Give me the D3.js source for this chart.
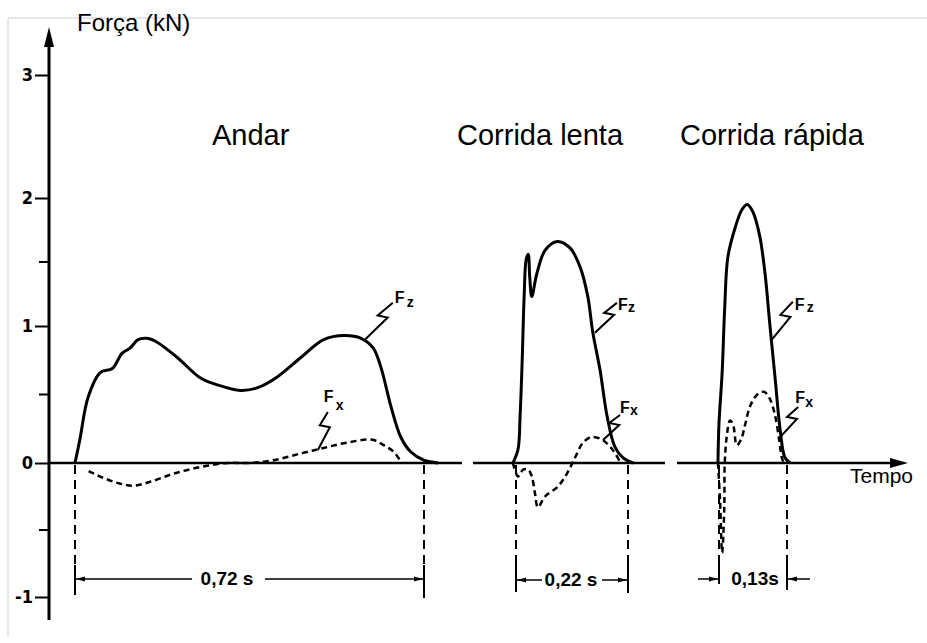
<!DOCTYPE html>
<html><head><meta charset="utf-8">
<script src="https://cdn.jsdelivr.net/npm/d3@7"></script>
<style>
html,body{margin:0;padding:0;background:#fff;}
svg{display:block;}
</style></head>
<body>
<svg id="chart" width="927" height="643"></svg>
<script>
// ---------- data ----------
const yTickValues = [-1, 0, 1, 2, 3];
const yTickLabels = ["-1", "0", "1", "2", "3"];
const yMinorTicks = [-0.5, 0.5, 1.5];
const panelTitles = ["Andar", "Corrida lenta", "Corrida rápida"];
const durations = [0.72, 0.22, 0.13];
const durationLabels = ["0,72 s", "0,22 s", "0,13s"];
const axisTitleY = "Força (kN)";
const axisTitleX = "Tempo";

// [time (s), force (kN)]
const walkFz = [[0,0],[0.010,0.17],[0.027,0.48],[0.052,0.66],[0.077,0.69],[0.097,0.80],[0.114,0.84],[0.130,0.90],[0.149,0.91],[0.170,0.88],[0.211,0.77],[0.259,0.62],[0.294,0.57],[0.341,0.53],[0.377,0.55],[0.418,0.63],[0.466,0.77],[0.513,0.90],[0.555,0.93],[0.590,0.91],[0.615,0.84],[0.631,0.70],[0.652,0.41],[0.672,0.19],[0.693,0.08],[0.72,0.02],[0.749,0]];
const walkFx = [[0.028,-0.06],[0.058,-0.11],[0.089,-0.15],[0.120,-0.17],[0.155,-0.14],[0.203,-0.08],[0.259,-0.03],[0.314,0],[0.356,0],[0.410,0.02],[0.466,0.07],[0.513,0.11],[0.563,0.15],[0.614,0.17],[0.637,0.13],[0.658,0.08],[0.672,0.01]];
const slowFz = [[-0.006,0],[0.004,0.10],[0.008,0.34],[0.012,0.73],[0.016,1.23],[0.020,1.52],[0.024,1.56],[0.027,1.38],[0.031,1.23],[0.041,1.41],[0.057,1.59],[0.081,1.66],[0.106,1.61],[0.126,1.46],[0.141,1.23],[0.151,0.95],[0.165,0.68],[0.179,0.34],[0.194,0.12],[0.210,0.04],[0.230,0]];
const slowFx = [[-0.006,0],[0.004,-0.10],[0.014,-0.05],[0.024,-0.05],[0.031,-0.10],[0.037,-0.22],[0.043,-0.33],[0.057,-0.25],[0.081,-0.18],[0.100,-0.08],[0.116,0.04],[0.132,0.15],[0.149,0.19],[0.169,0.17],[0.189,0.10],[0.204,0.01]];
const fastFz = [[-0.002,0],[0,0.29],[0.006,0.66],[0.011,1.15],[0.017,1.54],[0.031,1.77],[0.044,1.91],[0.054,1.95],[0.065,1.89],[0.078,1.70],[0.088,1.41],[0.097,1.02],[0.107,0.63],[0.117,0.24],[0.126,0.04],[0.136,0]];
const fastFx = [[-0.002,0],[0.002,-0.28],[0.006,-0.67],[0.010,-0.35],[0.011,0],[0.015,0.20],[0.021,0.31],[0.027,0.28],[0.034,0.13],[0.042,0.17],[0.050,0.28],[0.059,0.41],[0.073,0.50],[0.086,0.52],[0.097,0.47],[0.107,0.35],[0.115,0.17],[0.120,0.04],[0.124,0]];

// annotation anchors on the curves: [time, force]
const labelAnchors = [
  {panel:0, sub:"z", at:[0.598, 0.90]},
  {panel:0, sub:"x", at:[0.501, 0.095]},
  {panel:1, sub:"z", at:[0.155, 0.95]},
  {panel:1, sub:"x", at:[0.171, 0.168]},
  {panel:2, sub:"z", at:[0.101, 0.90]},
  {panel:2, sub:"x", at:[0.117, 0.19]}
];

// ---------- layout ----------
const svg = d3.select("#chart");
const axisX = 49;
const y = d3.scaleLinear().domain([-1, 0, 1, 2, 3]).range([597, 463, 326, 198, 75]);
const panels = [
  {fz: walkFz, fx: walkFx, x: d3.scaleLinear().domain([0, durations[0]]).range([75, 424]),
   base:[axisX, 462], title:[212, 145], lab:{y:579, cx:227, gapL:192, gapR:265, mode:"in", tickTop:[565,565], tickBot:[595,598]}},
  {fz: slowFz, fx: slowFx, x: d3.scaleLinear().domain([0, durations[1]]).range([516, 628]),
   base:[473, 665], title:[457, 145], lab:{y:580, cx:571, gapL:542, gapR:602, mode:"in", tickTop:[562,560], tickBot:[592,593]}},
  {fz: fastFz, fx: fastFx, x: d3.scaleLinear().domain([0, durations[2]]).range([719, 787]),
   base:[677, 892], title:[680, 145], lab:{y:579, cx:755, gapL:0, gapR:0, mode:"out", tickTop:[556,563], tickBot:[584,590]}}
];
const labelLayout = [
  {end:[28,-37], f:[2,0], s:[14,4]},
  {end:[10,-38], f:[-4,-10], s:[8,-2]},
  {end:[22,-30], f:[1,7], s:[11,9]},
  {end:[17,-25], f:[0,-2], s:[10,0]},
  {end:[21,-38], f:[2,8], s:[14,10]},
  {end:[18,-30], f:[-3,-4], s:[7,0]}
];

// frame
svg.append("line").attr("x1",8).attr("y1",18).attr("x2",927).attr("y2",18).attr("stroke","#cfcfcf").attr("stroke-width",1);
svg.append("line").attr("x1",8).attr("y1",18).attr("x2",8).attr("y2",637).attr("stroke","#cfcfcf").attr("stroke-width",1);

// Y axis
const yAxis = d3.axisLeft(y).tickValues(yTickValues).tickSize(14).tickPadding(2)
  .tickFormat((d,i) => yTickLabels[i]);
const gy = svg.append("g").attr("transform", `translate(${axisX},0)`).call(yAxis);
gy.select(".domain").remove();
gy.selectAll(".tick line").attr("stroke","#000").attr("stroke-width",2);
gy.selectAll(".tick text").attr("font-family","'Liberation Sans Narrow','Arial Narrow','DejaVu Sans Condensed',Arial,sans-serif")
  .attr("font-weight","bold").attr("font-size",18).attr("fill","#000");
svg.append("g").selectAll("line").data(yMinorTicks).join("line")
  .attr("x1", axisX-10).attr("x2", axisX).attr("y1", d=>y(d)).attr("y2", d=>y(d))
  .attr("stroke","#000").attr("stroke-width",2);
svg.append("line").attr("x1",axisX).attr("x2",axisX).attr("y1",620).attr("y2",40)
  .attr("stroke","#000").attr("stroke-width",3);
svg.append("path").attr("d",`M${axisX},27 L${axisX-5},47 L${axisX+5},47 Z`).attr("fill","#000");

svg.append("text").attr("x",77).attr("y",31).attr("font-family","Arial, 'Liberation Sans', sans-serif")
  .attr("font-size",24).attr("fill","#000").text(axisTitleY);

// X axis baselines
panels.forEach(p => {
  svg.append("line").attr("x1",p.base[0]).attr("x2",p.base[1]).attr("y1",y(0)).attr("y2",y(0))
    .attr("stroke","#000").attr("stroke-width",2.5);
});
svg.append("path").attr("d",`M908,${y(0)} L890,${y(0)-5} L890,${y(0)+5} Z`).attr("fill","#000");
svg.append("text").attr("x",850).attr("y",483).attr("font-family","Arial, 'Liberation Sans', sans-serif")
  .attr("font-size",21).attr("fill","#000").text(axisTitleX);

// curves
const line = (xs) => d3.line().x(d=>xs(d[0])).y(d=>y(d[1])).curve(d3.curveCatmullRom.alpha(0.5));
panels.forEach((p, i) => {
  svg.append("path").datum(p.fz).attr("d", line(p.x)).attr("fill","none")
    .attr("stroke","#000").attr("stroke-width",3).attr("stroke-linejoin","round");
  svg.append("path").datum(p.fx).attr("d", line(p.x)).attr("fill","none")
    .attr("stroke","#000").attr("stroke-width",2.5).attr("stroke-dasharray","6,4");
  svg.append("text").attr("x",p.title[0]).attr("y",p.title[1])
    .attr("font-family","Arial, 'Liberation Sans', sans-serif").attr("font-size",29).attr("fill","#000")
    .text(panelTitles[i]);

  // duration markers
  const x0 = p.x(0), x1 = p.x(durations[i]), L = p.lab;
  [[x0,0],[x1,1]].forEach(([xx,k]) => {
    svg.append("line").attr("x1",xx).attr("x2",xx).attr("y1",y(0)+2).attr("y2",L.tickTop[k])
      .attr("stroke","#000").attr("stroke-width",2).attr("stroke-dasharray","9,6");
    svg.append("line").attr("x1",xx).attr("x2",xx).attr("y1",L.tickTop[k]).attr("y2",L.tickBot[k])
      .attr("stroke","#000").attr("stroke-width",2);
  });
  const arrow = (tipX, dir) => `M${tipX},${L.y} L${tipX+dir*9},${L.y-2.5} L${tipX+dir*9},${L.y+2.5} Z`;
  if (L.mode === "in") {
    svg.append("line").attr("x1",x0).attr("x2",L.gapL).attr("y1",L.y).attr("y2",L.y).attr("stroke","#000").attr("stroke-width",1.5);
    svg.append("line").attr("x1",L.gapR).attr("x2",x1).attr("y1",L.y).attr("y2",L.y).attr("stroke","#000").attr("stroke-width",1.5);
    svg.append("path").attr("d",arrow(x0+1,1)).attr("fill","#000");
    svg.append("path").attr("d",arrow(x1-1,-1)).attr("fill","#000");
  } else {
    svg.append("line").attr("x1",x0-21).attr("x2",x0).attr("y1",L.y).attr("y2",L.y).attr("stroke","#000").attr("stroke-width",1.5);
    svg.append("line").attr("x1",x1).attr("x2",x1+23).attr("y1",L.y).attr("y2",L.y).attr("stroke","#000").attr("stroke-width",1.5);
    svg.append("path").attr("d",arrow(x0-1,-1)).attr("fill","#000");
    svg.append("path").attr("d",arrow(x1+1,1)).attr("fill","#000");
  }
  svg.append("text").attr("x",L.cx).attr("y",L.y+6).attr("text-anchor","middle")
    .attr("font-family","Arial, 'Liberation Sans', sans-serif").attr("font-weight","bold")
    .attr("font-size",19).attr("fill","#000").text(durationLabels[i]);
});

// Fz / Fx labels with lightning leaders
labelAnchors.forEach((a, i) => {
  const p = panels[a.panel], lay = labelLayout[i];
  const sx = p.x(a.at[0]), sy = y(a.at[1]);
  const ex = sx + lay.end[0], ey = sy + lay.end[1];
  const mx = sx + 0.6*(ex-sx), my = sy + 0.6*(ey-sy);
  const pts = [[sx,sy],[mx+6,my],[mx-4,my-2],[ex,ey]];
  svg.append("path").attr("d", d3.line()(pts)).attr("fill","none").attr("stroke","#000")
    .attr("stroke-width",2).attr("stroke-linejoin","miter");
  svg.append("text").attr("x",ex+lay.f[0]).attr("y",ey+lay.f[1])
    .attr("font-family","Arial, 'Liberation Sans', sans-serif").attr("font-weight","bold")
    .attr("font-size",16).attr("fill","#000").text("F");
  svg.append("text").attr("x",ex+lay.s[0]).attr("y",ey+lay.s[1])
    .attr("font-family","Arial, 'Liberation Sans', sans-serif").attr("font-weight","bold")
    .attr("font-size",14).attr("fill","#000").text(a.sub);
});
</script>
</body></html>
